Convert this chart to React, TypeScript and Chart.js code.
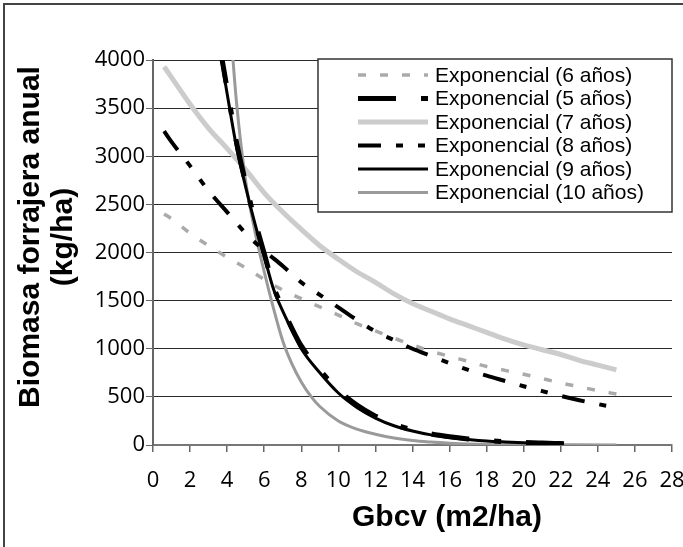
import React, { useEffect, useRef } from 'react';
import { Chart, registerables } from 'chart.js';

Chart.register(...registerables);

// ---- Data ----
const xTitle = 'Gbcv (m2/ha)';
const yTitleLines = ['Biomasa forrajera anual', '(kg/ha)'];

const xTicksMin = 0;
const xTicksMax = 28;
const xStep = 2;
const yMin = 0;
const yMax = 4000;
const yStep = 500;

// long, gently decreasing series share these x values
const xLong = [0.6, 1, 2, 3, 4, 5, 6, 7, 8, 9, 10, 11, 12, 13, 14, 15, 16, 17, 18, 19, 20, 21, 22, 23, 24, 25];
const y6 = [2400, 2350, 2200, 2070, 1950, 1840, 1720, 1610, 1520, 1435, 1350, 1260, 1185, 1110, 1040, 975, 920, 870, 815, 775, 735, 690, 645, 605, 565, 530];
const y7 = [3930, 3820, 3540, 3290, 3080, 2860, 2620, 2420, 2240, 2070, 1930, 1800, 1690, 1570, 1470, 1390, 1310, 1240, 1170, 1100, 1040, 990, 940, 880, 830, 780];
const y8 = [3260, 3150, 2900, 2640, 2420, 2200, 2020, 1860, 1690, 1560, 1430, 1300, 1180, 1090, 1000, 925, 850, 780, 720, 665, 610, 560, 510, 465, 425, 385];

// steep series
const x5 = [3.6, 4, 4.5, 5, 5.5, 6, 6.5, 7, 7.5, 8, 9, 10, 11, 12, 13, 14, 15, 16, 17, 18, 19, 20, 21, 22, 22.6];
const y5 = [4150, 3700, 3150, 2720, 2330, 1990, 1650, 1420, 1210, 1030, 780, 570, 415, 300, 215, 158, 115, 85, 63, 47, 35, 26, 20, 15, 12];
const x9 = [3.6, 4, 4.5, 5, 5.5, 6, 6.5, 7, 7.5, 8, 9, 10, 11, 12, 13, 14, 15, 16, 17, 18, 19, 20, 21, 22];
const y9 = [4110, 3650, 3100, 2680, 2300, 1960, 1620, 1390, 1190, 1000, 750, 540, 390, 280, 200, 145, 105, 78, 58, 42, 32, 24, 18, 13];
const x10 = [4.2, 4.5, 5, 5.5, 6, 6.5, 7, 7.5, 8, 8.5, 9, 10, 11, 12, 13, 14, 15, 16, 17, 18, 20, 22, 25];
const y10 = [4290, 3570, 2740, 2220, 1800, 1420, 1080, 840, 655, 510, 400, 250, 165, 112, 72, 46, 30, 18, 10, 6, 3, 2, 1];

const labels = [
  'Exponencial (6 años)',
  'Exponencial (5 años)',
  'Exponencial (7 años)',
  'Exponencial (8 años)',
  'Exponencial (9 años)',
  'Exponencial (10 años)',
];

const pts = (xs: number[], ys: number[]) => xs.map((x, i) => ({ x, y: ys[i] }));

const FONT_TICK = '"Open Sans", "DejaVu Sans", sans-serif';
const FONT_TXT = '"Liberation Sans", Arial, sans-serif';

const decorPlugin = {
  id: 'decor',
  beforeDraw(chart: any) {
    const c = chart.ctx;
    c.save();
    c.fillStyle = '#ffffff';
    c.fillRect(0, 0, chart.width, chart.height);
    c.restore();
  },
  afterDraw(chart: any) {
    const c = chart.ctx;
    const a = chart.chartArea;
    c.save();
    // outer frame (only left/top visible, picture is cropped)
    c.strokeStyle = '#444';
    c.lineWidth = 2;
    c.beginPath();
    c.moveTo(4, chart.height + 5);
    c.lineTo(4, 4);
    c.lineTo(chart.width + 5, 4);
    c.stroke();

    // axis titles
    c.fillStyle = '#000';
    c.font = 'bold 30px ' + FONT_TXT;
    c.textAlign = 'center';
    c.textBaseline = 'alphabetic';
    c.fillText(xTitle, 447, 526);

    c.save();
    c.translate(39, 237);
    c.rotate(-Math.PI / 2);
    c.fillText(yTitleLines[0], 0, 0);
    c.fillText(yTitleLines[1], 0, 33);
    c.restore();

    // legend box
    const bx = 318;
    const by = a.top - 1;
    const bw = 354;
    const bh = 153;
    c.fillStyle = '#fff';
    c.fillRect(bx, by, bw, bh);
    c.strokeStyle = '#333';
    c.lineWidth = 1.5;
    c.strokeRect(bx, by, bw, bh);

    c.font = '21px ' + FONT_TXT;
    c.textAlign = 'left';
    c.textBaseline = 'middle';
    chart.data.datasets.forEach((ds: any, row: number) => {
      const yy = by + 16 + row * 23.5;
      c.save();
      c.strokeStyle = ds.borderColor;
      c.lineWidth = ds.borderWidth;
      c.setLineDash(ds.borderDash || []);
      c.lineCap = 'butt';
      c.beginPath();
      c.moveTo(bx + 40, yy);
      c.lineTo(bx + 110, yy);
      c.stroke();
      c.restore();
      c.fillStyle = '#000';
      c.fillText(ds.label, bx + 117, yy + 1);
    });
    c.restore();
  },
};

export default function App() {
  const ref = useRef<HTMLCanvasElement | null>(null);

  useEffect(() => {
    document.body.style.margin = '0';
    const canvas = ref.current;
    if (!canvas) return;
    const chart = new Chart(canvas, {
      type: 'line',
      data: {
        datasets: [
          {
            label: labels[0],
            data: pts(xLong, y6),
            borderColor: '#aaaaaa',
            borderWidth: 3.5,
            borderDash: [8, 14],
            order: 3,
          },
          {
            label: labels[1],
            data: pts(x5, y5),
            borderColor: '#000000',
            borderWidth: 5,
            borderDash: [38, 25, 7, 25],
            order: 1,
          },
          {
            label: labels[2],
            data: pts(xLong, y7),
            borderColor: '#cccccc',
            borderWidth: 5,
            borderDash: [],
            order: 5,
          },
          {
            label: labels[3],
            data: pts(xLong, y8),
            borderColor: '#000000',
            borderWidth: 4,
            borderDash: [23, 15, 7, 15, 7, 15],
            order: 2,
          },
          {
            label: labels[4],
            data: pts(x9, y9),
            borderColor: '#000000',
            borderWidth: 3,
            borderDash: [],
            order: 0,
          },
          {
            label: labels[5],
            data: pts(x10, y10),
            borderColor: '#9a9a9a',
            borderWidth: 3,
            borderDash: [],
            order: 4,
          },
        ].map((d) => ({
          ...d,
          pointRadius: 0,
          pointHoverRadius: 0,
          fill: false,
          cubicInterpolationMode: 'monotone' as const,
          clip: 0,
        })),
      },
      options: {
        responsive: false,
        animation: false,
        events: [],
        layout: { padding: { left: 0, top: 60, right: 11, bottom: 0 } },
        plugins: {
          legend: { display: false },
          tooltip: { enabled: false },
          title: { display: false },
        },
        scales: {
          x: {
            type: 'linear',
            min: xTicksMin,
            max: xTicksMax,
            ticks: {
              stepSize: xStep,
              color: '#000',
              padding: 16,
              maxRotation: 0,
              autoSkip: false,
              font: { family: FONT_TICK, size: 22 },
              callback: (v: any) => String(v),
            },
            grid: {
              drawOnChartArea: false,
              drawTicks: true,
              tickLength: 7,
              color: '#666',
              lineWidth: 1.5,
            },
            border: { display: true, color: '#777', width: 2 },
            afterFit: (s: any) => {
              s.height = 102;
              s.paddingRight = 0;
              s.paddingLeft = 0;
            },
          },
          y: {
            type: 'linear',
            min: yMin,
            max: yMax,
            ticks: {
              stepSize: yStep,
              color: '#000',
              padding: 1,
              font: { family: FONT_TICK, size: 22 },
              callback: (v: any) => String(v),
            },
            grid: {
              drawTicks: true,
              tickLength: 7,
              color: '#2a2a2a',
              tickColor: '#666',
              lineWidth: 1,
            },
            border: { display: true, color: '#666', width: 2 },
            afterFit: (s: any) => {
              s.width = 153;
              s.paddingTop = 0;
              s.paddingBottom = 0;
            },
          },
        },
      },
      plugins: [decorPlugin],
    });
    return () => chart.destroy();
  }, []);

  return (
    <div style={{ width: 683, height: 547, position: 'relative', background: '#fff' }}>
      <canvas ref={ref} width={683} height={547} style={{ display: 'block' }} />
    </div>
  );
}
